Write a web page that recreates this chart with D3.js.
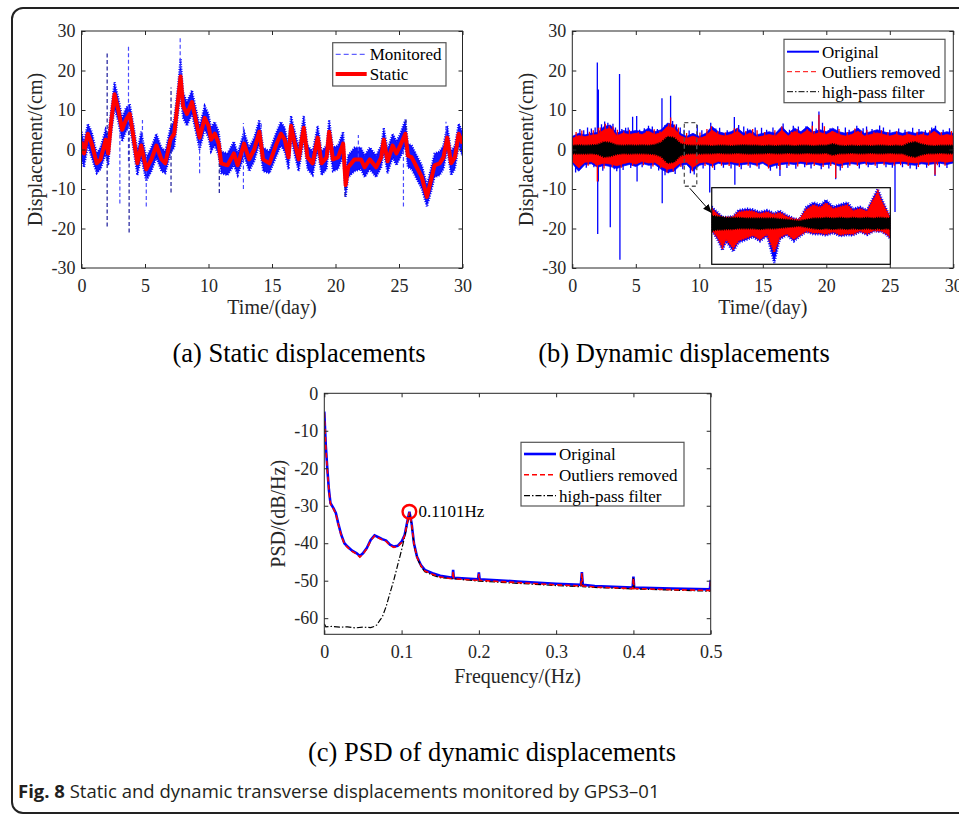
<!DOCTYPE html>
<html>
<head>
<meta charset="utf-8">
<title>Static and dynamic transverse displacements, GPS3-01</title>
<script src="https://d3js.org/d3.v7.min.js"></script>
<style>
  body { margin: 0; background: #fff; }
  svg text { font-family: "Liberation Serif", "Times New Roman", serif; }
</style>
</head>
<body>
<script>
// ---------- (a) static displacements ----------
const staticT = [0,0.2,0.5,0.8,1.2,1.5,1.9,2.1,2.3,2.6,2.9,3.2,3.5,3.8,4.1,4.4,4.7,5.1,5.5,5.9,6.3,6.6,7.0,7.3,7.6,7.8,8.0,8.3,8.7,9.0,9.3,9.7,10.0,10.2,10.5,10.8,11.0,11.5,12.0,12.3,12.8,13.2,13.6,14.0,14.3,14.8,15.3,15.7,16.0,16.3,16.5,16.8,17.1,17.5,17.8,18.2,18.6,18.9,19.3,19.5,19.8,20.2,20.6,20.8,21.0,21.5,22.0,22.3,22.7,23.2,23.6,23.8,24.1,24.5,24.8,25.1,25.5,25.7,26.0,26.4,26.8,27.2,27.5,27.8,28.2,28.5,28.8,29.1,29.4,29.7,30.0];
const staticV = [2,-1,4,1.5,-3.5,-2.5,2.5,-1,6,14,10,5,7.5,9,3,-3.5,1,-5,-2.5,1,-2.5,-3.5,2.5,4,12.5,18.5,11,9,12,7.5,3,8,6,2.5,4,1.5,-3.5,-4,-1,-4,1.5,-2.5,0,4.5,-2.5,-3.5,1,4,2.5,-2,6,1.5,-2.5,5.5,-2,-3.5,3,-3.5,-2,4.5,-2.5,-2,1.5,-9,-4.5,-2.5,-2.5,-4.5,-2.5,-4.5,-2,2.5,-3,1,-1,1,4,-1.5,-2,-4.5,-7,-12,-8,-4,-3.5,-2,3,-3.5,-2,4,1.5];
// upper / lower edge of the monitored (noisy) record at the same times
const monHi = [4.5,2,6.5,4.5,-1,0.5,5,3,9,17,13,8,10.5,11.5,6,-0.5,4.5,-2,0.5,4,0.5,-0.5,5.5,7.5,16,23,14.5,12,15,10.5,6,11,9,5.5,7,4.5,-0.5,-1,2,-1,4.5,0.5,3,7.5,0.5,-0.5,4,7,5.5,1,8.5,4.5,0.5,8.5,1,-0.5,6,-0.5,1,7.5,0.5,1,4.5,-5.5,-1.5,0.5,0.5,-1.5,0.5,-1.5,1,5.5,0,4,2,4,7.5,1.5,1,-1.5,-4,-9,-5,-1,-0.5,1,6,-0.5,1,6.5,4.5];
const monLo = [-2.5,-4.5,1,-2,-6,-5,-1,-4,3,10.5,7,2,4.5,6,0,-6.5,-2,-8,-5.5,-2,-5.5,-6,-1,0.5,9,14,8,6,9,4.5,0,5,3,-0.5,1,-1.5,-6,-6.5,-4,-6.5,-1.5,-5.5,-3,1.5,-5.5,-6,-2,1,-0.5,-5,3,-1.5,-5.5,2.5,-5,-6.5,0,-6.5,-5,1.5,-5.5,-5,-1.5,-12,-7,-5.5,-5,-7,-5,-7,-4.5,-0.5,-6,-2,-4,-2,1,-4.5,-5,-7.5,-10,-14.5,-11,-7,-6.5,-5,0,-6.5,-5,1,-1.5];
// isolated outliers of the monitored record: [day, low, high]
const monSpikes = [[2.02,-19.5,24.3],[3.02,-13.7,5],[3.7,-3,26.2],[3.75,-21,5],[4.8,0,7.5],[5.1,-14.4,-2],[7.05,-10.9,15.7],[7.77,14,28.7],[9.3,-6,4],[10.85,-11,0],[12.75,-10,6.7],[14.15,-1,6.8],[20.75,-11.9,-5],[21.8,-2,3.7],[25.35,-14.4,0],[25.55,0,8],[28.7,0,7]];

// ---------- (b) dynamic displacements, envelopes every 0.5 day ----------
const dynT = d3.range(0, 30.001, 0.5);
const origHi = [3.3,4.1,3.7,4.1,4.3,5.8,6.2,4.1,4.8,4.5,4.8,4.5,5.4,4.5,5.0,6.7,6.2,4.1,3.3,4.1,3.3,
  4.1,5.8,4.5,4.1,4.5,5.4,4.1,5.0,3.7,4.1,4.5,4.1,5.8,4.1,5.4,4.5,5.8,4.5,5.0,4.5,
  5.4,4.5,4.1,4.5,5.4,4.1,4.5,5.0,4.5,4.1,4.5,4.1,4.5,4.1,4.5,4.1,5.4,4.1,4.5,4.1];
const origLo = [-3.5,-5.5,-3.8,-3.6,-4.5,-4.0,-4.3,-4.8,-4.2,-3.8,-4.3,-3.5,-4.0,-3.8,-5.0,-5.8,-5.5,-4.0,-3.8,-5.5,-4.0,
  -3.6,-4.2,-3.5,-3.8,-3.6,-4.0,-3.8,-3.6,-4.0,-3.5,-4.5,-4.0,-3.8,-3.6,-3.8,-3.5,-3.8,-3.6,-4.0,-3.8,
  -3.6,-4.2,-3.8,-3.6,-3.8,-3.5,-3.8,-3.6,-3.5,-3.8,-3.6,-3.5,-3.8,-4.0,-3.6,-3.8,-3.6,-3.5,-3.8,-3.4];
const cleanHi = [2.8,3.5,3.2,3.6,3.8,5.0,5.4,3.5,4.1,3.8,4.1,3.8,4.6,3.8,4.3,5.8,5.4,3.5,2.8,3.4,2.8,
  3.4,4.9,3.8,3.4,3.8,4.6,3.4,4.2,3.1,3.4,3.8,3.4,4.9,3.4,4.6,3.8,4.9,3.8,4.3,3.8,
  4.6,3.8,3.4,3.8,4.6,3.4,3.8,4.2,3.8,3.4,3.8,3.4,3.8,3.4,3.8,3.4,4.6,3.4,3.8,3.4];
const cleanLo = [-3.0,-4.6,-3.2,-3.1,-3.9,-3.4,-3.7,-4.1,-3.6,-3.2,-3.7,-3.0,-3.4,-3.2,-4.3,-5.0,-4.7,-3.4,-3.2,-4.5,-3.4,
  -3.1,-3.6,-3.0,-3.2,-3.1,-3.4,-3.2,-3.1,-3.4,-3.0,-3.9,-3.4,-3.2,-3.1,-3.2,-3.0,-3.2,-3.1,-3.4,-3.2,
  -3.1,-3.6,-3.2,-3.1,-3.2,-3.0,-3.2,-3.1,-3.0,-3.2,-3.1,-3.0,-3.2,-3.4,-3.1,-3.2,-3.1,-3.0,-3.2,-2.9];
const hpHi = [1.0,1.1,1.0,1.1,1.2,1.9,1.7,1.1,1.0,1.1,1.0,1.1,1.0,1.2,1.8,3.2,3.0,1.5,1.1,1.0,1.0,
  1.0,0.9,1.0,1.0,0.9,1.0,1.1,1.0,1.0,0.9,1.0,0.9,1.0,1.0,0.9,1.0,1.0,0.9,1.0,1.0,
  1.4,1.0,0.9,1.0,0.9,1.0,0.9,1.0,1.0,0.9,1.0,0.9,1.6,1.9,1.3,1.0,0.9,1.0,1.0,1.0];
const hpLo = [-1.0,-1.1,-1.1,-1.0,-1.2,-1.9,-1.7,-1.2,-1.0,-1.1,-1.0,-1.0,-1.1,-1.2,-1.8,-3.4,-3.2,-1.6,-1.1,-1.0,-1.1,
  -1.0,-1.0,-0.9,-1.0,-1.0,-0.9,-1.0,-1.1,-1.0,-1.0,-0.9,-1.0,-1.0,-0.9,-1.0,-1.0,-0.9,-1.0,-1.0,-0.9,
  -1.4,-1.0,-1.0,-0.9,-1.0,-1.0,-0.9,-1.0,-1.0,-0.9,-1.0,-1.0,-1.6,-1.9,-1.3,-1.0,-1.0,-0.9,-1.0,-1.0];
// single peaks [day, cm]
const origSpikes = [[0.26,-5.8],[1.2,5.6],[1.97,22],[2.0,-21.4],[2.05,15.2],[2.05,-8.1],[2.55,7.1],[2.99,-19.7],[3.2,6.5],[3.5,-5.5],[3.72,19.1],[3.75,-27.9],[4.2,5.5],[4.75,8.3],[5.07,8.5],[5.1,-8.1],[5.67,5.4],[6.0,6.0],[7.06,13],[7.08,-13.6],[7.56,-6],[7.74,13.6],[8.5,5.6],[9.3,-6],[9.84,6.2],[10.82,-10.9],[11.6,5.5],[12.76,8.2],[12.8,-8.9],[13.5,5.8],[14.9,5.5],[16.35,-6.7],[17.4,6],[18.9,7.1],[19.42,9.6],[20.74,-7.5],[21.5,5.6],[23.17,5.8],[24.2,6.1],[25.41,-15.8],[26.8,5.5],[28.56,-6.7],[28.6,6],
  [0.6,5.2],[0.9,4.9],[1.5,5.3],[1.8,5.6],[2.3,6.4],[2.8,6.8],[3.4,5.6],[3.9,5.2],[4.4,5.6],[5.3,5.0],[6.3,5.8],[6.7,5.2],[7.3,6.2],[7.9,7.2],[8.2,6.4],[8.8,5.0],[9.2,4.8],[10.2,4.9],[10.9,6.8],[11.3,5.3],[12.2,4.9],[13.1,6.2],[13.8,5.3],[14.4,5.6],[15.3,5.0],[15.8,5.6],[16.6,6.6],[17.1,5.0],[17.8,5.8],[18.4,5.9],[19.2,5.3],[19.7,6.8],[20.3,5.4],[20.9,5.9],[21.8,5.0],[22.4,6.0],[22.9,5.4],[23.6,5.2],[24.5,5.6],[25.0,5.0],[25.7,5.3],[26.2,5.0],[27.3,5.2],[27.8,4.9],[28.3,5.6],[29.2,5.0],[29.7,5.4],
  [0.4,-5.0],[1.1,-4.6],[1.7,-4.5],[2.4,-5.4],[3.3,-5.0],[4.0,-5.2],[4.6,-4.7],[5.5,-4.5],[6.2,-4.9],[6.8,-5.3],[7.3,-6.5],[8.1,-6.2],[8.7,-5.0],[9.6,-6.3],[10.3,-4.8],[11.2,-5.2],[11.9,-4.6],[12.5,-4.8],[13.3,-5.0],[14.0,-4.6],[14.7,-4.9],[15.6,-5.4],[16.1,-4.8],[16.9,-4.7],[17.6,-4.9],[18.3,-4.5],[18.8,-4.8],[19.6,-5.0],[20.2,-4.8],[21.1,-5.3],[21.7,-4.6],[22.6,-4.8],[23.3,-4.5],[24.0,-4.7],[24.7,-4.5],[25.2,-4.6],[26.0,-4.5],[26.6,-4.8],[27.1,-5.0],[27.9,-4.6],[28.9,-4.5],[29.5,-4.7]];
const cleanSpikes = [[1.97,-8.1],[2.05,5.5],[2.6,6.5],[3.2,5.8],[7.6,6.5],[7.74,8.1],[10.6,5.2],[12.76,5.4],[14.2,5.2],[16.35,-5.1],[18.9,6],[19.42,8.8],[20.74,-7.2],[23.2,5],[28.56,-6.4],
  [0.3,4.4],[0.75,4.8],[1.35,4.5],[1.65,4.9],[2.2,5.6],[2.9,6.0],[3.55,5.0],[4.05,4.6],[4.5,5.0],[5.2,4.4],[5.85,4.7],[6.45,5.1],[6.9,4.6],[7.4,5.6],[8.05,6.3],[8.35,5.6],[9.0,4.2],[10.05,4.3],[10.95,5.9],[11.45,4.6],[12.05,4.3],[13.0,5.4],[13.65,4.6],[14.55,4.9],[15.15,4.4],[15.95,4.9],[16.5,5.8],[17.25,4.4],[17.7,5.1],[18.5,5.2],[19.05,4.6],[19.85,5.9],[20.45,4.7],[21.0,5.2],[21.65,4.4],[22.25,5.3],[22.75,4.7],[23.75,4.5],[24.35,4.9],[24.85,4.4],[25.55,4.6],[26.35,4.4],[27.15,4.5],[27.65,4.3],[28.15,4.9],[29.05,4.4],[29.85,4.7],
  [0.55,-4.6],[1.25,-4.1],[1.85,-4.0],[2.5,-4.8],[3.15,-4.4],[3.85,-4.6],[4.75,-4.1],[5.6,-4.0],[6.35,-4.3],[6.95,-4.7],[7.45,-5.8],[7.95,-5.6],[8.55,-4.4],[9.45,-5.5],[10.45,-4.2],[11.05,-4.6],[11.75,-4.1],[12.35,-4.2],[13.15,-4.4],[13.85,-4.1],[14.55,-4.3],[15.45,-4.8],[16.25,-4.2],[17.05,-4.1],[17.75,-4.3],[18.45,-4.0],[19.05,-4.2],[19.75,-4.4],[20.35,-4.2],[21.25,-4.7],[21.85,-4.1],[22.45,-4.2],[23.15,-4.0],[23.85,-4.1],[24.55,-4.0],[25.35,-4.1],[25.85,-4.0],[26.45,-4.2],[27.25,-4.4],[28.05,-4.1],[28.75,-4.0],[29.35,-4.1]];
// zoomed window (dashed box) and its enlarged view
const zoomWin = {t0: 8.82, t1: 9.80, v0: -9.3, v1: 6.8};
const insetBox = {t0: 10.98, t1: 25.04, v0: -9.67, v1: -29.06};
const insetT = [8.80,8.83,8.86,8.88,8.92,8.95,9.00,9.03,9.07,9.11,9.15,9.18,9.22,9.26,9.29,9.33,9.37,9.41,9.44,9.48,9.52,9.56,9.59,9.63,9.67,9.71,9.73,9.75,9.78,9.80];
const insOrigHi = [2.6,1.8,1.0,1.0,1.1,2.1,2.3,2.2,1.8,2.1,1.6,2.0,1.3,0.8,0.6,2.6,3.3,2.9,3.7,2.6,3.0,3.3,2.3,2.6,2.1,4.4,5.4,4.0,2.1,1.0];
const insOrigLo = [-1.1,-2.4,-4.2,-2.8,-4.4,-3.0,-2.5,-2.1,-2.8,-1.9,-6.2,-2.5,-1.8,-2.8,-2.1,-1.3,-1.7,-1.7,-1.9,-1.5,-2.0,-1.8,-1.9,-1.3,-1.8,-1.2,-1.3,-1.3,-1.8,-2.4];
const insCleanHi = [2.3,1.5,0.9,0.9,1.0,1.8,2.0,1.9,1.5,1.8,1.4,1.7,1.1,0.7,0.6,2.2,2.9,2.5,3.2,2.3,2.6,2.9,2.0,2.3,1.9,4.0,5.0,3.6,1.9,0.9];
const insCleanLo = [-1.0,-2.1,-3.7,-2.5,-3.9,-2.7,-2.2,-1.9,-2.5,-1.7,-4.5,-2.2,-1.6,-2.5,-1.9,-1.2,-1.5,-1.5,-1.7,-1.3,-1.8,-1.6,-1.7,-1.2,-1.6,-1.1,-1.2,-1.2,-1.6,-2.2];
const insHpHi = [1.2,1.1,1.0,0.9,0.9,0.9,0.8,0.8,0.8,0.8,0.8,0.7,0.6,0.5,0.4,0.6,0.8,0.8,0.9,0.8,0.9,0.8,0.9,0.8,0.9,0.8,0.9,0.9,0.8,0.9];
const insHpLo = [-1.2,-1.0,-1.0,-0.9,-0.9,-0.8,-0.8,-0.8,-0.9,-0.8,-0.8,-0.7,-0.6,-0.5,-0.4,-0.6,-0.8,-0.9,-0.8,-0.9,-0.8,-0.9,-0.8,-0.9,-0.8,-0.9,-0.8,-0.9,-0.8,-0.9];

// ---------- (c) PSD ----------
const freq = [0,0.001,0.002,0.004,0.006,0.008,0.012,0.015,0.018,0.022,0.026,0.030,0.036,0.042,0.046,0.050,0.055,0.060,0.065,0.070,0.075,0.080,0.085,0.090,0.095,0.100,0.104,0.107,0.1101,0.113,0.116,0.120,0.125,0.130,0.140,0.150,0.166,0.1667,0.1675,0.199,0.2,0.201,0.25,0.3,0.332,0.3333,0.3345,0.35,0.399,0.4,0.401,0.45,0.499,0.5];
const psdOrig = [-4.9,-9.8,-14.2,-20.4,-25.8,-29.3,-30.7,-32,-34.7,-37.8,-40,-40.9,-42,-42.7,-43.4,-42.7,-41.3,-39.1,-37.9,-38.4,-38.9,-39.3,-40.4,-40.9,-40.7,-39.6,-37.8,-34.7,-31.6,-34.7,-40,-43.6,-45.8,-47.1,-48,-48.7,-49.2,-47.1,-49.2,-49.6,-47.8,-49.6,-50.2,-50.8,-51.1,-47.7,-51.1,-51.4,-51.8,-48.9,-51.8,-52.1,-52.3,-49.8];
const psdClean = [-5.2,-10,-14.5,-20.6,-26,-29.5,-30.9,-32.2,-34.9,-38,-40.2,-41.1,-42.2,-42.9,-43.7,-42.9,-41.5,-39.3,-38.1,-38.6,-39.1,-39.5,-40.6,-41.1,-40.9,-39.8,-38,-34.9,-31.8,-34.9,-40.2,-43.8,-46,-47.4,-48.3,-49,-49.5,-47.5,-49.5,-49.9,-48.2,-49.9,-50.5,-51.1,-51.4,-48,-51.4,-51.7,-52.1,-49.3,-52.1,-52.4,-52.6,-50.2];
const hpFreq = [0,0.002,0.01,0.02,0.03,0.04,0.05,0.06,0.065,0.068,0.072,0.075,0.08,0.085,0.09,0.095,0.1,0.105,0.1101,0.113,0.116,0.12,0.125,0.13,0.14,0.15,0.2,0.25,0.3,0.332,0.3333,0.3345,0.35,0.399,0.4,0.401,0.45,0.5];
const psdHp = [-61.5,-62.3,-62.2,-62.4,-62.3,-62.6,-62.4,-62.5,-62.2,-61.8,-60.5,-59.7,-56.9,-53.3,-49.8,-45.8,-41.8,-37.3,-32,-35,-40.3,-43.9,-46.2,-47.6,-48.5,-49.2,-50.1,-50.7,-51.3,-51.6,-48.2,-51.6,-51.8,-52.2,-49.2,-52.2,-52.5,-52.8];
const peak = {f: 0.1101, v: -31.6, label: "0.1101Hz"};

const timeTicks = [0,5,10,15,20,25,30];
const dispTicks = [-30,-20,-10,0,10,20,30];
const freqTicks = [0,0.1,0.2,0.3,0.4,0.5];
const psdTicks = [-60,-50,-40,-30,-20,-10,0];

// ---------- drawing ----------
const width = 959, height = 814;
const BLUE = "#0000ff", RED = "#ff0000", AX = "#262626";

const svg = d3.select("body").append("svg")
  .attr("width", width).attr("height", height)
  .attr("viewBox", [0, 0, width, height]);

// outer frame of the figure
svg.append("rect")
  .attr("x", 12).attr("y", 8).attr("width", 980).attr("height", 805)
  .attr("rx", 11).attr("fill", "none").attr("stroke", "#222").attr("stroke-width", 2);

// boxed axes with inward ticks on all four sides
function drawAxes(g, x, y, xt, yt, fx, xPad) {
  const [yb, yTop] = y.range();
  const [xl, xr] = x.range();
  const setup = a => a.tickSizeInner(-4).tickSizeOuter(0);
  const gb = g.append("g").attr("transform", `translate(0,${yb})`)
    .call(setup(d3.axisBottom(x)).tickValues(xt).tickPadding(xPad).tickFormat(fx));
  const gt = g.append("g").attr("transform", `translate(0,${yTop})`)
    .call(setup(d3.axisTop(x)).tickValues(xt).tickFormat(""));
  const gl = g.append("g").attr("transform", `translate(${xl},0)`)
    .call(setup(d3.axisLeft(y)).tickValues(yt).tickPadding(6).tickFormat(d => String(d)));
  const gr = g.append("g").attr("transform", `translate(${xr},0)`)
    .call(setup(d3.axisRight(y)).tickValues(yt).tickFormat(""));
  [gb, gt, gl, gr].forEach(a => {
    a.attr("color", AX).attr("font-size", 18);
    a.select(".domain").remove();
  });
  g.append("rect").attr("x", xl).attr("y", yTop).attr("width", xr - xl).attr("height", yb - yTop)
    .attr("fill", "none").attr("stroke", AX).attr("stroke-width", 1);
}

function legend(g, box, rows) {
  g.append("rect").attr("x", box.x).attr("y", box.y).attr("width", box.w).attr("height", box.h)
    .attr("fill", "#fff").attr("stroke", "#555").attr("stroke-width", 1.2);
  rows.forEach((r, i) => {
    const cy = box.y + box.first + i * box.step;
    g.append("line").attr("x1", box.x + 3).attr("x2", box.x + 3 + box.len).attr("y1", cy).attr("y2", cy)
      .attr("stroke", r.color).attr("stroke-width", r.w).attr("stroke-dasharray", r.dash || null);
    g.append("text").attr("x", box.x + box.len + 6).attr("y", cy).attr("dy", "0.35em")
      .attr("font-size", 17).attr("fill", "#000").text(r.label);
  });
}

function clip(id, x, y) {
  svg.append("clipPath").attr("id", id).append("rect")
    .attr("x", x.range()[0]).attr("y", y.range()[1])
    .attr("width", x.range()[1] - x.range()[0]).attr("height", y.range()[0] - y.range()[1]);
  return `url(#${id})`;
}

function axisTitles(x, y, xTitle, yTitle, xBase, yBase) {
  svg.append("text").attr("x", d3.mean(x.range())).attr("y", xBase)
    .attr("text-anchor", "middle").attr("font-size", 20).attr("fill", AX).text(xTitle);
  svg.append("text").attr("transform", `translate(${yBase},${d3.mean(y.range())}) rotate(-90)`)
    .attr("text-anchor", "middle").attr("font-size", 20).attr("fill", AX).text(yTitle);
}

// ----- panel (a)
{
  const x = d3.scaleLinear().domain([0, 30]).range([81.5, 462.5]);
  const y = d3.scaleLinear().domain([-30, 30]).range([268, 31]);
  const g = svg.append("g");
  const p = g.append("g").attr("clip-path", clip("clipA", x, y));
  const rows = staticT.map((t, i) => ({t, v: staticV[i], hi: monHi[i], lo: monLo[i]}));
  // noisy record: filled band with a stippled rim for the jitter
  p.append("path").datum(rows).attr("fill", "#1414ff").attr("stroke", BLUE).attr("stroke-width", 2.2)
    .attr("stroke-dasharray", "1,1.4")
    .attr("d", d3.area().x(d => x(d.t)).y0(d => y(d.lo)).y1(d => y(d.hi)));
  p.selectAll("line.spk").data(monSpikes).join("line").attr("class", "spk")
    .attr("x1", d => x(d[0])).attr("x2", d => x(d[0])).attr("y1", d => y(d[1])).attr("y2", d => y(d[2]))
    .attr("stroke", (d, i) => i % 3 === 0 ? "#1a1a9a" : "#4a4aff").attr("stroke-width", 1.2)
    .attr("stroke-dasharray", "4,2.5");
  p.append("path").datum(rows).attr("fill", "none").attr("stroke", RED).attr("stroke-width", 4)
    .attr("stroke-linejoin", "round")
    .attr("d", d3.line().x(d => x(d.t)).y(d => y(d.v)));
  drawAxes(g, x, y, timeTicks, dispTicks, d => String(d), 11);
  legend(g, {x: 332.7, y: 42.7, w: 113.3, h: 43.3, first: 11.6, step: 19.7, len: 31}, [
    {label: "Monitored", color: "#3a3aff", w: 1, dash: "5,3"},
    {label: "Static", color: RED, w: 4}
  ]);
  axisTitles(x, y, "Time/(day)", "Displacement/(cm)", 314, 41.5);
}

// ----- panel (b)
{
  const x = d3.scaleLinear().domain([0, 30]).range([572.3, 953.3]);
  const y = d3.scaleLinear().domain([-30, 30]).range([268, 31]);
  const g = svg.append("g");
  const p = g.append("g").attr("clip-path", clip("clipB", x, y));
  const rows = dynT.map((t, i) => ({t, oh: origHi[i], ol: origLo[i], ch: cleanHi[i], cl: cleanLo[i], kh: hpHi[i], kl: hpLo[i]}));
  const band = (hi, lo) => d3.area().x(d => x(d.t)).y0(d => y(d[lo])).y1(d => y(d[hi]));
  p.append("path").datum(rows).attr("fill", BLUE).attr("stroke", BLUE).attr("stroke-width", 0.8).attr("d", band("oh", "ol"));
  p.selectAll("line.os").data(origSpikes).join("line").attr("class", "os")
    .attr("x1", d => x(d[0])).attr("x2", d => x(d[0])).attr("y1", y(0)).attr("y2", d => y(d[1]))
    .attr("stroke", BLUE).attr("stroke-width", 1.3);
  p.append("path").datum(rows).attr("fill", RED).attr("stroke", RED).attr("stroke-width", 0.8).attr("d", band("ch", "cl"));
  p.selectAll("line.cs").data(cleanSpikes).join("line").attr("class", "cs")
    .attr("x1", d => x(d[0])).attr("x2", d => x(d[0])).attr("y1", y(0)).attr("y2", d => y(d[1]))
    .attr("stroke", RED).attr("stroke-width", 1.3);
  p.append("path").datum(rows).attr("fill", "#000").attr("stroke", "#000").attr("stroke-width", 2)
    .attr("stroke-dasharray", "1,1.2").attr("d", band("kh", "kl"));

  // dashed window and arrow
  g.append("rect").attr("x", x(zoomWin.t0)).attr("y", y(zoomWin.v1))
    .attr("width", x(zoomWin.t1) - x(zoomWin.t0)).attr("height", y(zoomWin.v0) - y(zoomWin.v1))
    .attr("fill", "none").attr("stroke", "#555").attr("stroke-width", 1.3).attr("stroke-dasharray", "4,3");
  svg.append("defs").append("marker").attr("id", "arr").attr("viewBox", "0 0 10 10")
    .attr("refX", 10).attr("refY", 5).attr("markerWidth", 9).attr("markerHeight", 9)
    .attr("markerUnits", "userSpaceOnUse").attr("orient", "auto")
    .append("path").attr("d", "M0,1 L10,5 L0,9 Z").attr("fill", "#000");

  // enlarged view
  const ix = d3.scaleLinear().domain([8.8, 9.8]).range([x(insetBox.t0), x(insetBox.t1)]);
  const iy = d3.scaleLinear().domain([-6.4, 5.6]).range([y(insetBox.v1), y(insetBox.v0)]);
  g.append("line").attr("x1", x(9.25)).attr("y1", y(zoomWin.v0) + 2)
    .attr("x2", ix.range()[0]).attr("y2", y(-16.1))
    .attr("stroke", "#000").attr("stroke-width", 1).attr("marker-end", "url(#arr)");
  g.append("rect").attr("x", ix.range()[0]).attr("y", iy.range()[1])
    .attr("width", ix.range()[1] - ix.range()[0]).attr("height", iy.range()[0] - iy.range()[1]).attr("fill", "#fff");
  const ip = g.append("g").attr("clip-path", clip("clipI", ix, iy));
  const irows = insetT.map((t, i) => ({t, oh: insOrigHi[i], ol: insOrigLo[i], ch: insCleanHi[i], cl: insCleanLo[i], kh: insHpHi[i], kl: insHpLo[i]}));
  const iband = (hi, lo) => d3.area().x(d => ix(d.t)).y0(d => iy(d[lo])).y1(d => iy(d[hi]));
  ip.append("path").datum(irows).attr("fill", BLUE).attr("stroke", BLUE).attr("stroke-width", 2.5)
    .attr("stroke-dasharray", "1,1.5").attr("d", iband("oh", "ol"));
  ip.append("path").datum(irows).attr("fill", RED).attr("stroke", RED).attr("stroke-width", 2.5)
    .attr("stroke-dasharray", "1,1.5").attr("d", iband("ch", "cl"));
  ip.append("path").datum(irows).attr("fill", "#000").attr("stroke", "#000").attr("stroke-width", 2)
    .attr("stroke-dasharray", "1,1.2").attr("d", iband("kh", "kl"));
  g.append("rect").attr("x", ix.range()[0]).attr("y", iy.range()[1])
    .attr("width", ix.range()[1] - ix.range()[0]).attr("height", iy.range()[0] - iy.range()[1])
    .attr("fill", "none").attr("stroke", "#000").attr("stroke-width", 1.2);

  drawAxes(g, x, y, timeTicks, dispTicks, d => String(d), 11);
  legend(g, {x: 784, y: 39.3, w: 161, h: 63.4, first: 12.4, step: 20, len: 32}, [
    {label: "Original", color: BLUE, w: 2},
    {label: "Outliers removed", color: RED, w: 1, dash: "5,3"},
    {label: "high-pass filter", color: "#000", w: 1, dash: "6,2,1.5,2"}
  ]);
  axisTitles(x, y, "Time/(day)", "Displacement/(cm)", 314, 532.5);
}

// ----- panel (c)
{
  const x = d3.scaleLinear().domain([0, 0.5]).range([324.3, 710.7]);
  const y = d3.scaleLinear().domain([-64.3, 0]).range([634.3, 393.3]);
  const g = svg.append("g");
  const p = g.append("g").attr("clip-path", clip("clipC", x, y));
  const line = d3.line().x(d => x(d[0])).y(d => y(d[1]));
  p.append("path").datum(freq.map((f, i) => [f, psdOrig[i]])).attr("fill", "none")
    .attr("stroke", BLUE).attr("stroke-width", 2.6).attr("d", line);
  p.append("path").datum(hpFreq.map((f, i) => [f, psdHp[i]])).attr("fill", "none")
    .attr("stroke", "#000").attr("stroke-width", 1.2).attr("stroke-dasharray", "6,2,1.5,2").attr("d", line);
  p.append("path").datum(freq.map((f, i) => [f, psdClean[i]])).attr("fill", "none")
    .attr("stroke", RED).attr("stroke-width", 1.6).attr("stroke-dasharray", "5,3").attr("d", line);
  drawAxes(g, x, y, freqTicks, psdTicks, d => String(+d.toFixed(1)), 10.5);
  g.append("circle").attr("cx", x(peak.f)).attr("cy", y(peak.v)).attr("r", 6.8)
    .attr("fill", "none").attr("stroke", RED).attr("stroke-width", 2.4);
  g.append("text").attr("x", x(peak.f) + 9).attr("y", y(peak.v) + 5.5)
    .attr("font-size", 17).attr("fill", "#000").text(peak.label);
  legend(g, {x: 521, y: 442.3, w: 163, h: 63.7, first: 11.7, step: 20.8, len: 32}, [
    {label: "Original", color: BLUE, w: 2.6},
    {label: "Outliers removed", color: RED, w: 1.6, dash: "5,3"},
    {label: "high-pass filter", color: "#000", w: 1.2, dash: "6,2,1.5,2"}
  ]);
  axisTitles(x, y, "Frequency/(Hz)", "PSD/(dB/Hz)", 683, 285);
}

// ----- sub-captions and figure caption
const subs = [["(a) Static displacements", 299, 362], ["(b) Dynamic displacements", 684, 362], ["(c) PSD of dynamic displacements", 492, 761]];
svg.selectAll("text.sub").data(subs).join("text").attr("class", "sub")
  .attr("x", d => d[1]).attr("y", d => d[2]).attr("text-anchor", "middle")
  .attr("font-size", 26.5).attr("fill", "#000").text(d => d[0]);

const cap = svg.append("text").attr("x", 18).attr("y", 798)
  .style("font-family", "'Open Sans', 'Noto Sans', sans-serif").attr("font-size", 18.5).attr("fill", "#231f20");
cap.append("tspan").attr("font-weight", "bold").text("Fig. 8");
cap.append("tspan").text(" Static and dynamic transverse displacements monitored by GPS3\u201301");
</script>
</body>
</html>
